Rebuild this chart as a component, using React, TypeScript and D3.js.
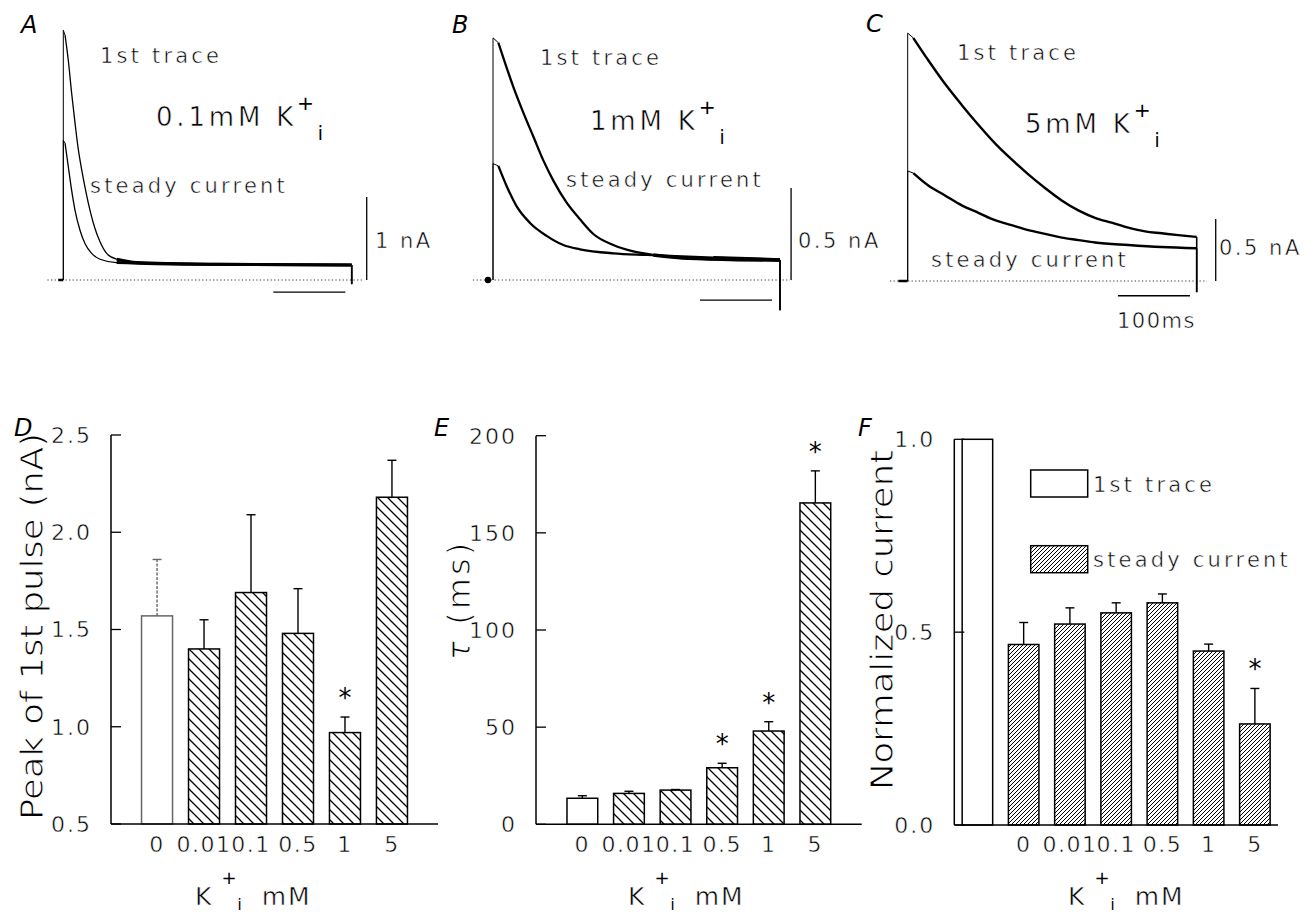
import React from "react";
import * as d3 from "d3";

const W = 1307;
const H = 915;
const FONT = "'DejaVu Sans', 'Liberation Sans', Arial, sans-serif";

type Pt = [number, number];

// ---------- A–C: current traces, [time (ms), current (nA)] ----------
const traceA1st: Pt[] = [
  [2.4, 2.95], [6.9, 2.65], [11.6, 2.25], [16.3, 1.89], [20.9, 1.57], [25.5, 1.33],
  [30.1, 1.12], [37.1, 0.84], [44.0, 0.62], [51.0, 0.46], [60.2, 0.32], [74.2, 0.25],
  [101.9, 0.21], [213.1, 0.19], [400.6, 0.18],
];
const traceASteady: Pt[] = [
  [2.4, 1.65], [6.9, 1.37], [11.6, 1.08], [16.3, 0.84], [23.2, 0.6], [30.1, 0.44],
  [39.4, 0.32], [51.0, 0.25], [74.2, 0.21], [166.7, 0.19], [400.6, 0.18],
];
const traceB1st: Pt[] = [
  [7.4, 1.29], [16.7, 1.18], [28.2, 1.05], [42.1, 0.91], [56.0, 0.78], [69.9, 0.65],
  [83.8, 0.54], [102.3, 0.42], [120.8, 0.33], [139.4, 0.25], [167.1, 0.19], [194.9, 0.155],
  [222.7, 0.136], [259.7, 0.121], [329.2, 0.112], [398.6, 0.109],
];
const traceBSteady: Pt[] = [
  [7.4, 0.62], [19.0, 0.51], [32.9, 0.4], [51.4, 0.31], [74.5, 0.24], [97.7, 0.19],
  [120.8, 0.167], [167.1, 0.145], [213.4, 0.136], [306.0, 0.121], [398.6, 0.109],
];
const traceC1st: Pt[] = [
  [7.8, 1.96], [28.6, 1.78], [51.8, 1.59], [75.0, 1.42], [98.1, 1.26], [121.3, 1.11],
  [144.4, 0.98], [167.5, 0.86], [190.7, 0.75], [213.9, 0.65], [237.0, 0.57], [260.1, 0.51],
  [283.3, 0.47], [306.4, 0.43], [329.6, 0.4], [352.8, 0.385], [375.8, 0.37], [401.4, 0.355],
];
const traceCSteady: Pt[] = [
  [7.8, 0.87], [28.6, 0.77], [51.8, 0.69], [75.0, 0.61], [98.1, 0.55], [121.3, 0.49],
  [144.4, 0.45], [167.5, 0.41], [190.7, 0.38], [213.9, 0.35], [237.0, 0.33], [260.1, 0.31],
  [306.4, 0.29], [352.8, 0.274], [401.4, 0.264],
];

const concLabelsTop = ["0.1mM", "1mM", "5mM"];
const scaleBarMs = 100;
const scaleBarNa = [1, 0.5, 0.5];
const scaleBarNaLabels = ["1 nA", "0.5 nA", "0.5 nA"];

// ---------- D–F: summary bars ----------
const concentrations = ["0", "0.01", "0.1", "0.5", "1", "5"];
const peakMean = [1.57, 1.4, 1.69, 1.48, 0.97, 2.18];
const peakSem = [0.29, 0.15, 0.4, 0.23, 0.08, 0.19];
const peakSig = [false, false, false, false, true, false];
const peakTicks = [0.5, 1.0, 1.5, 2.0, 2.5];

const tauMean = [13.4, 15.9, 17.6, 29.1, 48.0, 165.4];
const tauSem = [1.3, 1.1, 0.3, 2.3, 4.8, 16.5];
const tauSig = [false, false, false, true, true, true];
const tauTicks = [0, 50, 100, 150, 200];

const firstTraceNorm = 1.0;
const steadyNorm = [0.468, 0.521, 0.55, 0.576, 0.451, 0.262];
const steadySem = [0.057, 0.042, 0.026, 0.023, 0.018, 0.092];
const steadySig = [false, false, false, false, false, true];
const normTicks = [0, 0.5, 1.0];

// ---------- layout of the trace panels ----------
interface TraceLayout {
  x0: number; y0: number; pxPerMs: number; pxPerNa: number;
  baseFrom: number; baseTo: number;
  thick: number; plateauFrom: number; plateauW: number;
  endDip: number; vBarT: number; hBarI: number; hBarFrom: number;
  startKind: "tick" | "dot"; startFrom: number;
}

const traceLayouts: TraceLayout[] = [
  { x0: 63.3, y0: 280, pxPerMs: 0.72, pxPerNa: 83, baseFrom: -22, baseTo: 417,
    thick: 1.3, plateauFrom: 70, plateauW: 3, endDip: -0.05,
    vBarT: 421.4, hBarI: -0.145, hBarFrom: 291.7, startKind: "tick", startFrom: -7 },
  { x0: 493, y0: 280, pxPerMs: 0.72, pxPerNa: 184, baseFrom: -27.8, baseTo: 412.5,
    thick: 2.3, plateauFrom: 215, plateauW: 3.6, endDip: -0.165,
    vBarT: 414, hBarI: -0.109, hBarFrom: 287.5, startKind: "dot", startFrom: -7 },
  { x0: 907.7, y0: 281, pxPerMs: 0.72, pxPerNa: 124, baseFrom: -24.6, baseTo: 415.7,
    thick: 2.4, plateauFrom: 1000, plateauW: 2.4, endDip: -0.09,
    vBarT: 427.8, hBarI: -0.119, hBarFrom: 292, startKind: "tick", startFrom: -13 },
];

const traceSets: [Pt[], Pt[]][] = [
  [traceA1st, traceASteady],
  [traceB1st, traceBSteady],
  [traceC1st, traceCSteady],
];

const tracePanelText = [
  { letter: [21, 33], first: [100, 63], conc: [156, 126], steady: [90, 193], nA: [375, 248] },
  { letter: [452, 33], first: [540, 65], conc: [590, 130], steady: [566, 187], nA: [798, 248] },
  { letter: [866, 32], first: [957, 60], conc: [1025, 133], steady: [931, 267], nA: [1219, 255] },
];

const LS = 3.2; // letter spacing of the label font
// light lettering: a thin white outline pares the regular glyphs down
const LIGHT = { stroke: "#fff", strokeWidth: 0.55 };
const LIGHT_BIG = { stroke: "#fff", strokeWidth: 1.0 };

function KPlusI({ x, y, prefix, size }: { x: number; y: number; prefix: string; size: number }) {
  return (
    <text x={x} y={y} fontSize={size} letterSpacing={3.8} {...LIGHT}>
      {prefix} K
      <tspan fontSize={size * 0.78} dx={0} dy={-size * 0.6} stroke="none">+</tspan>
      <tspan fontSize={size * 0.72} dx={0} dy={size * 1.13} stroke="none">i</tspan>
    </text>
  );
}

function AxisTitleK({ x, y }: { x: number; y: number }) {
  return (
    <text x={x} y={y} fontSize={25} letterSpacing={2} {...LIGHT}>
      K
      <tspan fontSize={18} dx={8} dy={-21} stroke="none">+</tspan>
      <tspan fontSize={15} dx={-1} dy={26} stroke="none">i</tspan>
      <tspan dx={18} dy={-5}>mM</tspan>
    </text>
  );
}

function TracePanel({ idx }: { idx: number }) {
  const L = traceLayouts[idx];
  const [first, steady] = traceSets[idx];
  const txt = tracePanelText[idx];
  const x = d3.scaleLinear().domain([0, 100]).range([L.x0, L.x0 + 100 * L.pxPerMs]);
  const y = d3.scaleLinear().domain([0, 1]).range([L.y0, L.y0 - L.pxPerNa]);
  const line = d3.line<Pt>().x((d) => x(d[0])).y((d) => y(d[1])).curve(d3.curveMonotoneX);

  const draw = (pts: Pt[], key: string) => {
    const p0 = pts[0];
    const last = pts[pts.length - 1];
    const plateau = pts.filter((p) => p[0] >= L.plateauFrom);
    return (
      <g key={key} fill="none" stroke="#000">
        <path d={`M${x(0)},${y(0)}L${x(0)},${y(p0[1] * 1.02)}L${x(p0[0])},${y(p0[1])}`} strokeWidth={1} />
        <path d={line(pts) || ""} strokeWidth={L.thick} strokeLinejoin="round" />
        {plateau.length > 1 && <path d={line(plateau) || ""} strokeWidth={L.plateauW} />}
        <line x1={x(last[0])} x2={x(last[0])} y1={y(last[1])} y2={y(L.endDip)} strokeWidth={1.6} />
      </g>
    );
  };

  return (
    <g>
      <text x={txt.letter[0]} y={txt.letter[1]} fontSize={24} fontStyle="italic">
        {"ABC"[idx]}
      </text>
      {/* zero-current reference */}
      <line x1={x(L.baseFrom)} x2={x(L.baseTo)} y1={y(0)} y2={y(0)}
        stroke="#333" strokeWidth={1} strokeDasharray="1.2 2.4" />
      {L.startKind === "dot" ? (
        <circle cx={x(L.startFrom)} cy={y(0)} r={3.2} fill="#000" />
      ) : (
        <line x1={x(L.startFrom)} x2={x(0)} y1={y(0)} y2={y(0)} stroke="#000" strokeWidth={2.5} />
      )}
      {draw(first, "first")}
      {draw(steady, "steady")}
      {/* scale bars */}
      <line x1={x(L.vBarT)} x2={x(L.vBarT)} y1={y(0)} y2={y(scaleBarNa[idx])} stroke="#000" strokeWidth={1.3} />
      <line x1={x(L.hBarFrom)} x2={x(L.hBarFrom + scaleBarMs)} y1={y(L.hBarI)} y2={y(L.hBarI)} stroke="#000" strokeWidth={1.3} />
      <text x={txt.nA[0]} y={txt.nA[1]} fontSize={21} letterSpacing={2.5} {...LIGHT}>
        {scaleBarNaLabels[idx]}
      </text>
      {idx === 2 && (
        <text x={1117} y={328} fontSize={21} letterSpacing={1.5} {...LIGHT}>100ms</text>
      )}
      <text x={txt.first[0]} y={txt.first[1]} fontSize={21} letterSpacing={LS} {...LIGHT}>1st trace</text>
      <text x={txt.steady[0]} y={txt.steady[1]} fontSize={21} letterSpacing={LS} {...LIGHT}>steady current</text>
      <KPlusI x={txt.conc[0]} y={txt.conc[1]} prefix={concLabelsTop[idx]} size={26} />
    </g>
  );
}

interface BarOpts {
  keys: string[];
  labels: string[];
  means: number[];
  sems: number[];
  sig: boolean[];
  fills: string[];
  strokes: string[];
  errDash: (string | undefined)[];
  x: d3.ScaleBand<string>;
  y: d3.ScaleLinear<number, number>;
  ticks: number[];
  fmt: (v: number) => string;
  axisLeft: number;
  axisRight: number;
}

function BarPanel(o: BarOpts) {
  const [d0, d1] = o.y.domain();
  const yBase = o.y(d0);
  const w = o.x.bandwidth();
  return (
    <g>
      {o.keys.map((k, i) => {
        const bx = o.x(k)!;
        const cx = bx + w / 2;
        const top = o.y(o.means[i]);
        const err = o.y(o.means[i] + o.sems[i]);
        return (
          <g key={k}>
            <rect x={bx} y={top} width={w} height={yBase - top} fill={o.fills[i]}
              stroke={o.strokes[i]} strokeWidth={1.5} />
            {o.sems[i] > 0 && (
              <g stroke={o.strokes[i]} strokeWidth={1.4}>
                <line x1={cx} x2={cx} y1={top} y2={err} strokeDasharray={o.errDash[i]} />
                <line x1={cx - 4.5} x2={cx + 4.5} y1={err} y2={err} />
              </g>
            )}
            {o.sig[i] && (
              <text x={cx} y={err - 10} fontSize={26} textAnchor="middle">*</text>
            )}
            {o.labels[i] !== "" && (
              <text x={cx} y={852} fontSize={22} textAnchor="middle" letterSpacing={1.5} {...LIGHT}>
                {o.labels[i]}
              </text>
            )}
          </g>
        );
      })}
      {/* axes with inward ticks */}
      <line x1={o.axisLeft} x2={o.axisLeft} y1={o.y(d1)} y2={yBase} stroke="#000" strokeWidth={1.5} />
      <line x1={o.axisLeft} x2={o.axisRight} y1={yBase} y2={yBase} stroke="#000" strokeWidth={1.5} />
      {o.ticks.map((t) => (
        <g key={t}>
          <line x1={o.axisLeft} x2={o.axisLeft + 10} y1={o.y(t)} y2={o.y(t)} stroke="#000" strokeWidth={1.3} />
          <text x={o.axisLeft - 19} y={o.y(t)} dy="0.36em" fontSize={22} textAnchor="end"
            letterSpacing={2} {...LIGHT}>
            {o.fmt(t)}
          </text>
        </g>
      ))}
    </g>
  );
}

export default function App() {
  const fmt1 = d3.format(".1f");
  const fmt0 = d3.format("d");

  const xD = d3.scaleBand<string>().domain(concentrations).range([111, 438]).paddingInner(0.34).paddingOuter(0.65);
  const yD = d3.scaleLinear().domain([0.5, 2.5]).range([824, 435]);

  const xE = d3.scaleBand<string>().domain(concentrations).range([536, 861.7]).paddingInner(0.34).paddingOuter(0.665);
  const yE = d3.scaleLinear().domain([0, 200]).range([824.3, 435.7]);

  const fKeys = ["first", ...concentrations];
  const xF = d3.scaleBand<string>().domain(fKeys).range([954.3, 1278]).paddingInner(0.34).paddingOuter(0.17);
  const yF = d3.scaleLinear().domain([0, 1]).range([825, 439.3]);

  const hatchFills = concentrations.map((_, i) => (i === 0 ? "#fff" : "url(#hatchWide)"));

  return (
    <svg width={W} height={H} viewBox={`0 0 ${W} ${H}`} fontFamily={FONT}
      style={{ position: "absolute", left: 0, top: 0, background: "#fff" }}>
      <defs>
        <pattern id="hatchWide" patternUnits="userSpaceOnUse" width={10} height={10}>
          <rect width={10} height={10} fill="#fff" />
          <path d="M-1,-1L11,11M-1,9L1,11M9,-1L11,1" stroke="#000" strokeWidth={1.3} />
        </pattern>
        <pattern id="hatchFine" patternUnits="userSpaceOnUse" width={4} height={4}>
          <rect width={4} height={4} fill="#fff" />
          <path d="M-1,5L5,-1M-1,1L1,-1M3,5L5,3" stroke="#000" strokeWidth={1} />
        </pattern>
      </defs>

      {[0, 1, 2].map((i) => <TracePanel key={i} idx={i} />)}

      {/* D: peak of first pulse */}
      <text x={14} y={436} fontSize={24} fontStyle="italic">D</text>
      <BarPanel keys={concentrations} labels={concentrations} means={peakMean} sems={peakSem}
        sig={peakSig} fills={hatchFills}
        strokes={concentrations.map((_, i) => (i === 0 ? "#666" : "#000"))}
        errDash={concentrations.map((_, i) => (i === 0 ? "3 1.5" : undefined))}
        x={xD} y={yD} ticks={peakTicks} fmt={fmt1} axisLeft={111} axisRight={438} />
      <text transform="translate(43,626.5) rotate(-90)" fontSize={32} textAnchor="middle"
        textLength={387} lengthAdjust="spacingAndGlyphs" {...LIGHT_BIG}>
        Peak of 1st pulse (nA)
      </text>
      <AxisTitleK x={195} y={905} />

      {/* E: decay time constant */}
      <text x={434} y={436} fontSize={24} fontStyle="italic">E</text>
      <BarPanel keys={concentrations} labels={concentrations} means={tauMean} sems={tauSem}
        sig={tauSig} fills={hatchFills} strokes={concentrations.map(() => "#000")}
        errDash={concentrations.map(() => undefined)}
        x={xE} y={yE} ticks={tauTicks} fmt={fmt0} axisLeft={536} axisRight={861.7} />
      <text transform="translate(470,600) rotate(-90)" fontSize={32} textAnchor="middle"
        letterSpacing={3} {...LIGHT_BIG}>
        <tspan fontStyle="italic">τ</tspan> (ms)
      </text>
      <AxisTitleK x={628} y={905} />

      {/* F: normalized current */}
      <text x={858} y={436} fontSize={24} fontStyle="italic">F</text>
      <BarPanel keys={fKeys} labels={["", ...concentrations]} means={[firstTraceNorm, ...steadyNorm]}
        sems={[0, ...steadySem]} sig={[false, ...steadySig]}
        fills={["#fff", ...concentrations.map(() => "url(#hatchFine)")]}
        strokes={fKeys.map(() => "#000")} errDash={fKeys.map(() => undefined)}
        x={xF} y={yF} ticks={normTicks} fmt={fmt1} axisLeft={954.3} axisRight={1278} />
      <text transform="translate(893,620) rotate(-90)" fontSize={32} textAnchor="middle"
        textLength={340} lengthAdjust="spacingAndGlyphs" {...LIGHT_BIG}>
        Normalized current
      </text>
      <AxisTitleK x={1068} y={905} />

      {/* legend */}
      <rect x={1030.7} y={470} width={57} height={27} fill="#fff" stroke="#000" strokeWidth={1.5} />
      <text x={1093} y={492} fontSize={21} letterSpacing={LS} {...LIGHT}>1st trace</text>
      <rect x={1030.7} y={545.7} width={57} height={27} fill="url(#hatchFine)" stroke="#000" strokeWidth={1.5} />
      <text x={1093} y={567} fontSize={21} letterSpacing={LS} {...LIGHT}>steady current</text>
    </svg>
  );
}
